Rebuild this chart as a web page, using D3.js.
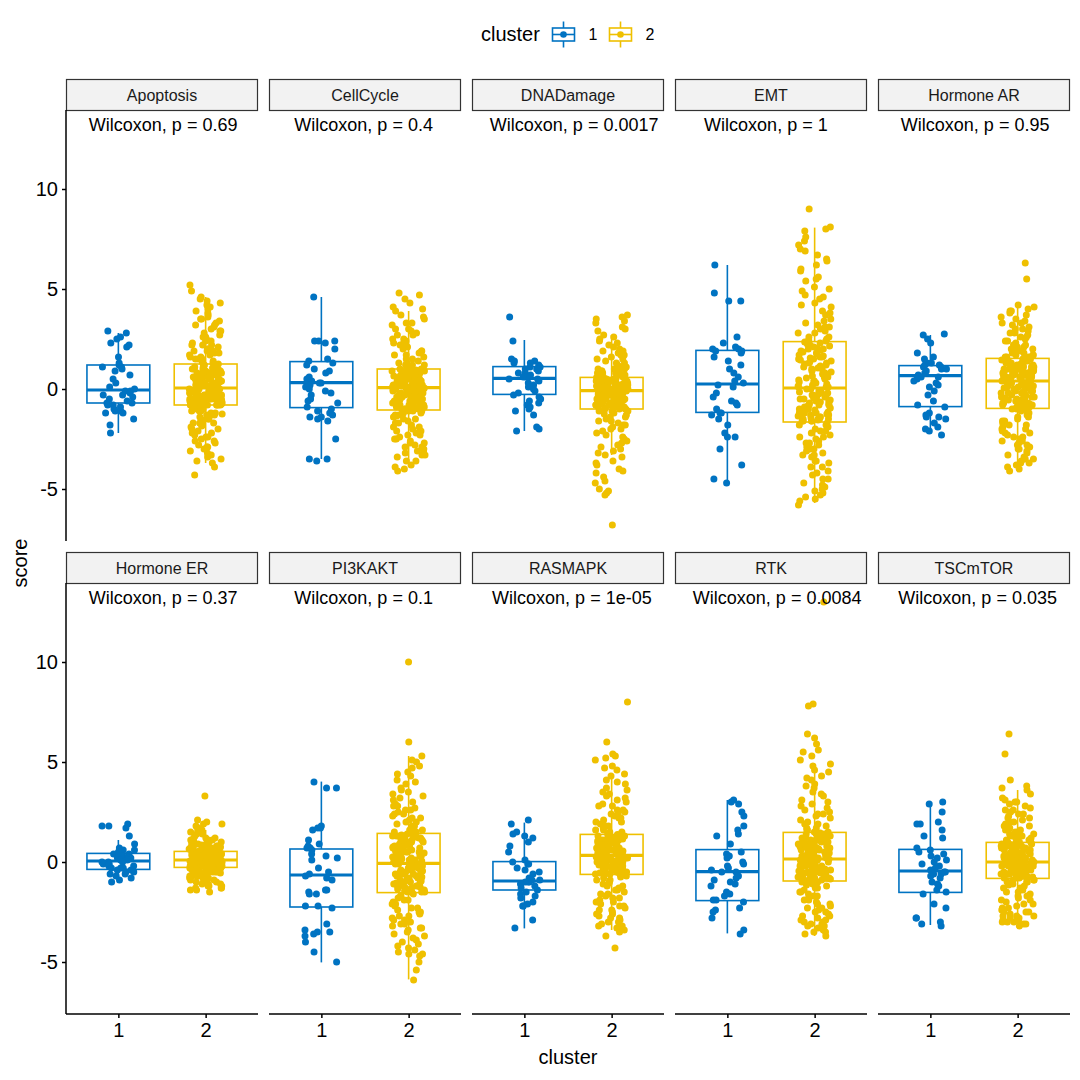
<!DOCTYPE html>
<html><head><meta charset="utf-8">
<script src="https://cdn.jsdelivr.net/npm/d3@7"></script>
<style>body{margin:0;background:#fff}svg{font-family:"Liberation Sans",Arial,Helvetica,sans-serif}</style>
</head><body><svg id="chart" width="1080" height="1080"></svg>
<script>
// ---------------- DATA ----------------
const facets = ["Apoptosis","CellCycle","DNADamage","EMT","Hormone AR","Hormone ER","PI3KAKT","RASMAPK","RTK","TSCmTOR"];
const pLabels = ["Wilcoxon, p = 0.69","Wilcoxon, p = 0.4","Wilcoxon, p = 0.0017","Wilcoxon, p = 1","Wilcoxon, p = 0.95",
                 "Wilcoxon, p = 0.37","Wilcoxon, p = 0.1","Wilcoxon, p = 1e-05","Wilcoxon, p = 0.0084","Wilcoxon, p = 0.035"];
const clusters = ["1","2"];
const yTicks = [-5,0,5,10];
// box statistics: [lower whisker, Q1, median, Q3, upper whisker]
const box1 = [[-2.2,-0.7,-0.05,1.2,2.8],[-3.5,-0.93,0.32,1.37,4.6],[-2.1,-0.27,0.53,1.12,2.45],[-4.67,-1.17,0.25,1.93,6.2],[-2.13,-0.88,0.67,1.17,2.7],
              [-1.0,-0.37,0.05,0.43,1.1],[-5.02,-2.25,-0.65,0.65,4.02],[-3.32,-1.4,-0.95,0.02,1.97],[-3.57,-1.93,-0.48,0.62,3.1],[-3.15,-1.52,-0.45,0.63,2.93]];
const box2 = [[-3.7,-0.8,0.05,1.25,4.6],[-3.9,-1.05,0.07,1.0,3.9],[-3.3,-1.0,-0.08,0.58,2.7],[-5.7,-1.65,0.05,2.37,8.07],[-4.05,-0.97,0.4,1.53,4.2],
              [-1.2,-0.27,0.1,0.53,1.6],[-5.87,-1.53,-0.07,1.43,5.3],[-3.4,-0.62,0.33,1.38,4.3],[-3.7,-0.95,0.15,1.48,4.9],[-3.15,-0.82,0.0,0.98,3.6]];

const apoptosis1 = [2.9,2.8,2.6,2.5,2.3,2.2,2.1,1.6,1.3,1.2,1.1,1.1,1.0,0.9,0.7,0.5,0.3,0.1,0.0,-0.1,-0.1,-0.2,-0.3,-0.3,-0.4,-0.5,-0.6,-0.7,-0.7,-0.8,-0.8,-0.9,-1.0,-1.1,-1.1,-1.2,-1.2,-1.5,-1.8,-2.2];
const apoptosis2 = [5.2,4.9,4.6,4.5,4.3,4.2,4.0,3.8,3.7,3.6,3.5,3.4,3.3,3.2,3.1,3.0,2.9,2.8,2.7,2.6,2.5,2.4,2.3,2.2,2.2,2.1,2.0,1.9,1.9,1.8,1.7,1.7,1.6,1.5,1.5,1.4,1.3,
  1.2,1.2,1.1,1.1,1.0,1.0,0.9,0.9,0.9,0.8,0.8,0.8,0.7,0.7,0.7,0.6,0.6,0.6,0.5,0.5,0.5,0.4,0.4,0.4,0.3,0.3,0.3,0.3,0.2,0.2,0.2,0.2,0.1,0.1,0.1,0.1,0.0,0.0,
  0.0,-0.1,-0.1,-0.1,-0.1,-0.2,-0.2,-0.2,-0.2,-0.3,-0.3,-0.3,-0.3,-0.4,-0.4,-0.4,-0.4,-0.5,-0.5,-0.5,-0.5,-0.5,-0.6,-0.6,-0.6,-0.6,-0.7,-0.7,-0.7,-0.7,-0.7,-0.8,-0.8,-0.8,-0.8,-0.8,-0.8,-0.8,
  -0.9,-0.9,-1.0,-1.0,-1.1,-1.1,-1.2,-1.2,-1.3,-1.3,-1.4,-1.4,-1.5,-1.5,-1.6,-1.7,-1.7,-1.8,-1.9,-2.0,-2.1,-2.2,-2.3,-2.4,-2.5,-2.6,-2.7,-2.8,-2.9,-3.0,-3.1,-3.3,-3.4,-3.6,-3.7,-3.9,-4.3,
  4.4,4.1,3.9,3.5,3.2,2.9,2.6,2.4,2.2,2.0,1.9,1.8,1.6,1.5,1.35,
  1.25,1.2,1.15,1.1,1.05,1.0,0.95,0.9,0.85,0.8,0.75,0.7,0.65,0.6,0.55,0.5,0.45,0.4,0.35,0.3,0.25,0.2,0.15,0.1,0.05,
  0.0,-0.05,-0.1,-0.15,-0.2,-0.25,-0.3,-0.35,-0.4,-0.45,-0.5,-0.55,-0.6,-0.65,-0.7,-0.75,-0.8,-0.1,-0.3,-0.5,-0.7,-0.2,-0.4,-0.6,-0.75,
  -0.9,-1.0,-1.1,-1.25,-1.4,-1.55,-1.7,-1.85,-2.0,-2.2,-2.4,-2.6,-2.9,-3.2,-3.5];
const cellcycle1 = [4.6,2.4,2.4,2.4,2.3,2.0,1.5,1.4,1.3,1.2,1.0,0.9,0.8,0.6,0.5,0.4,0.3,0.3,0.2,0.1,0.0,-0.1,-0.2,-0.3,-0.5,-0.6,-0.7,-0.9,-1.0,-1.1,-1.2,-1.3,-1.4,-1.4,-1.5,-1.6,-2.5,-3.5,-3.5,-3.6];
const cellcycle2 = [4.8,4.7,4.3,4.1,3.9,3.7,3.5,3.3,3.2,3.0,2.9,2.8,2.7,2.5,2.4,2.3,2.2,2.1,2.0,1.9,1.8,1.7,1.6,1.5,1.4,1.3,1.2,1.2,1.1,1.0,
  1.0,0.9,0.9,0.9,0.8,0.8,0.7,0.7,0.7,0.6,0.6,0.5,0.5,0.5,0.4,0.4,0.4,0.3,0.3,0.3,0.3,0.2,0.2,0.2,0.2,0.1,0.1,0.1,0.1,0.0,
  0.0,-0.1,-0.1,-0.1,-0.2,-0.2,-0.2,-0.3,-0.3,-0.3,-0.4,-0.4,-0.4,-0.5,-0.5,-0.5,-0.6,-0.6,-0.6,-0.7,-0.7,-0.7,-0.8,-0.8,-0.8,-0.9,-0.9,-1.0,-1.0,-1.0,
  -1.1,-1.1,-1.2,-1.3,-1.3,-1.4,-1.5,-1.6,-1.7,-1.8,-1.9,-2.0,-2.1,-2.2,-2.3,-2.4,-2.5,-2.6,-2.7,-2.8,-2.9,-3.0,-3.1,-3.2,-3.3,-3.4,-3.6,-3.8,-4.0,-4.1,
  4.5,4.0,3.6,3.3,3.0,2.7,2.5,2.3,2.1,1.9,1.7,1.5,1.3,1.2,1.1,
  1.0,0.95,0.9,0.85,0.8,0.75,0.7,0.65,0.6,0.55,0.5,0.45,0.4,0.35,0.3,0.25,0.2,0.15,0.1,0.08,0.9,0.6,0.4,0.2,0.1,
  0.05,0.0,-0.05,-0.1,-0.15,-0.2,-0.25,-0.3,-0.35,-0.4,-0.45,-0.5,-0.55,-0.6,-0.65,-0.7,-0.75,-0.8,-0.85,-0.9,-0.95,-1.0,-0.3,-0.6,-0.9,
  -1.1,-1.2,-1.35,-1.5,-1.7,-1.9,-2.1,-2.3,-2.5,-2.7,-2.9,-3.1,-3.3,-3.6,-3.9];
const dnadamage1 = [3.6,2.4,1.5,1.4,1.4,1.3,1.3,1.2,1.1,1.1,1.0,1.0,0.9,0.8,0.8,0.7,0.6,0.6,0.5,0.5,0.4,0.3,0.2,0.1,0.0,-0.1,-0.2,-0.3,-0.4,-0.5,-0.6,-0.7,-0.8,-0.9,-1.0,-1.1,-1.3,-1.9,-2.0,-2.1];
const dnadamage2 = [3.7,3.6,3.5,3.3,3.1,2.9,2.7,2.5,2.3,2.2,2.0,1.9,1.8,1.7,1.6,1.5,1.4,1.3,1.2,1.1,1.0,1.0,0.9,0.9,0.8,0.8,0.7,0.7,0.6,0.6,
  0.5,0.5,0.5,0.4,0.4,0.4,0.4,0.3,0.3,0.3,0.3,0.2,0.2,0.2,0.2,0.1,0.1,0.1,0.1,0.0,0.0,0.0,0.0,0.0,-0.1,-0.1,-0.1,-0.1,-0.1,-0.1,
  -0.1,-0.2,-0.2,-0.2,-0.2,-0.3,-0.3,-0.3,-0.3,-0.4,-0.4,-0.4,-0.5,-0.5,-0.5,-0.6,-0.6,-0.6,-0.7,-0.7,-0.7,-0.8,-0.8,-0.8,-0.9,-0.9,-0.9,-1.0,-1.0,-1.0,
  -1.1,-1.1,-1.2,-1.3,-1.4,-1.5,-1.6,-1.7,-1.8,-1.9,-2.0,-2.1,-2.2,-2.4,-2.5,-2.7,-2.8,-3.0,-3.2,-3.4,-3.6,-3.8,-4.0,-4.1,-4.4,-4.7,-5.0,-5.2,-5.3,-6.8,
  3.4,3.0,2.6,2.4,2.1,1.9,1.7,1.5,1.3,1.2,1.1,1.0,0.9,0.8,0.7,
  0.58,0.55,0.5,0.45,0.4,0.35,0.3,0.25,0.2,0.15,0.1,0.05,0.0,-0.05,0.5,0.4,0.3,0.2,0.1,0.0,0.45,0.25,0.05,0.35,0.15,
  -0.1,-0.15,-0.2,-0.25,-0.3,-0.35,-0.4,-0.45,-0.5,-0.55,-0.6,-0.65,-0.7,-0.75,-0.8,-0.85,-0.9,-0.95,-1.0,-0.2,-0.4,-0.6,-0.8,-0.3,-0.5,
  -1.1,-1.25,-1.4,-1.6,-1.8,-2.0,-2.3,-2.6,-2.9,-3.1,-3.3,-3.7,-4.2,-4.6,-5.1];
const emt1 = [6.2,4.8,4.4,4.4,2.6,2.3,2.1,2.0,2.0,1.9,1.9,1.8,1.6,1.4,1.2,1.0,0.8,0.6,0.4,0.3,0.2,0.1,-0.2,-0.4,-0.6,-0.7,-0.8,-1.0,-1.2,-1.2,-1.3,-1.5,-1.8,-2.2,-2.4,-2.4,-3.0,-3.8,-4.5,-4.7];
const emt2 = [9.0,8.1,7.9,7.6,7.2,7.0,6.7,6.4,6.2,5.9,5.6,5.4,5.1,4.9,4.7,4.5,4.3,4.1,3.9,3.7,3.5,3.3,3.2,3.1,3.0,2.9,2.8,2.6,2.5,2.4,
  2.3,2.2,2.1,2.0,2.0,1.9,1.8,1.7,1.6,1.6,1.5,1.4,1.3,1.3,1.2,1.1,1.0,1.0,0.9,0.8,0.7,0.6,0.6,0.5,0.4,0.4,0.3,0.2,0.1,0.1,
  0.0,-0.1,-0.2,-0.2,-0.3,-0.4,-0.4,-0.5,-0.6,-0.6,-0.7,-0.8,-0.8,-0.9,-1.0,-1.0,-1.1,-1.1,-1.2,-1.2,-1.3,-1.3,-1.4,-1.4,-1.5,-1.5,-1.5,-1.6,-1.6,-1.6,
  -1.7,-1.8,-1.9,-2.0,-2.1,-2.2,-2.3,-2.4,-2.5,-2.6,-2.7,-2.8,-2.9,-3.0,-3.1,-3.2,-3.3,-3.4,-3.6,-3.7,-3.9,-4.1,-4.3,-4.5,-4.7,-4.9,-5.1,-5.3,-5.5,-5.8,
  8.0,7.4,6.9,6.5,6.0,5.5,5.0,4.6,4.2,3.8,3.4,3.1,2.8,2.6,2.45,
  2.35,2.25,2.15,2.05,1.95,1.85,1.75,1.65,1.55,1.45,1.35,1.25,1.15,1.05,0.95,0.85,0.75,0.65,0.55,0.45,0.35,0.25,0.15,0.1,1.5,
  0.0,-0.1,-0.15,-0.25,-0.35,-0.45,-0.55,-0.65,-0.75,-0.85,-0.95,-1.05,-1.15,-1.25,-1.35,-1.45,-1.55,-1.6,-0.5,-1.0,-1.3,-0.3,-0.8,-1.2,-1.5,
  -1.8,-2.1,-2.4,-2.7,-3.0,-3.3,-3.6,-3.9,-4.2,-4.5,-4.8,-5.0,-5.2,-5.4,-5.6];
const hormoneAR1 = [2.75,2.7,2.5,2.3,1.8,1.6,1.5,1.3,1.3,1.2,1.2,1.1,1.1,1.0,1.0,0.9,0.8,0.7,0.6,0.6,0.5,0.4,0.3,0.2,0.1,-0.1,-0.3,-0.6,-0.8,-0.9,-1.2,-1.3,-1.4,-1.4,-1.5,-1.7,-1.9,-2.0,-2.1,-2.3];
const hormoneAR2 = [6.3,5.5,4.1,4.0,3.9,3.8,3.7,3.5,3.4,3.3,3.2,3.1,3.0,2.9,2.8,2.7,2.6,2.5,2.4,2.3,2.2,2.1,2.0,1.9,1.9,1.8,1.7,1.7,1.6,1.6,
  1.5,1.5,1.4,1.4,1.3,1.3,1.2,1.2,1.1,1.1,1.1,1.0,1.0,1.0,0.9,0.9,0.9,0.8,0.8,0.8,0.7,0.7,0.7,0.6,0.6,0.6,0.5,0.5,0.5,0.4,
  0.4,0.3,0.3,0.2,0.2,0.2,0.1,0.1,0.0,0.0,-0.1,-0.1,-0.2,-0.2,-0.3,-0.3,-0.4,-0.4,-0.5,-0.5,-0.6,-0.6,-0.7,-0.7,-0.8,-0.8,-0.9,-0.9,-0.9,-1.0,
  -1.0,-1.1,-1.2,-1.3,-1.4,-1.5,-1.6,-1.7,-1.8,-1.9,-2.0,-2.1,-2.2,-2.3,-2.4,-2.5,-2.6,-2.7,-2.8,-2.9,-3.0,-3.1,-3.2,-3.4,-3.5,-3.6,-3.7,-3.8,-4.0,-4.1,
  4.2,3.9,3.6,3.3,3.0,2.8,2.6,2.4,2.2,2.1,2.0,1.9,1.8,1.7,1.6,
  1.5,1.45,1.4,1.35,1.3,1.25,1.2,1.15,1.1,1.05,1.0,0.95,0.9,0.85,0.8,0.75,0.7,0.65,0.6,0.55,0.5,0.45,0.4,1.2,0.8,
  0.35,0.3,0.25,0.2,0.15,0.1,0.05,0.0,-0.05,-0.1,-0.15,-0.2,-0.3,-0.35,-0.4,-0.45,-0.5,-0.55,-0.6,-0.7,-0.75,-0.8,-0.85,-0.9,-0.95,
  -1.05,-1.2,-1.4,-1.6,-1.8,-2.0,-2.2,-2.4,-2.6,-2.8,-3.0,-3.3,-3.5,-3.7,-3.9];
const hormoneER1 = [1.9,1.8,1.8,1.7,1.3,0.9,0.7,0.6,0.6,0.5,0.5,0.4,0.4,0.3,0.3,0.2,0.2,0.2,0.1,0.1,0.0,0.0,0.0,-0.1,-0.1,-0.2,-0.2,-0.3,-0.3,-0.3,-0.4,-0.4,-0.5,-0.5,-0.6,-0.6,-0.7,-0.8,-0.9,-1.0];
const hormoneER2 = [3.3,2.1,2.0,1.9,1.8,1.7,1.6,1.5,1.4,1.3,1.2,1.2,1.1,1.1,1.0,1.0,0.9,0.9,0.9,0.8,0.8,0.8,0.7,0.7,0.7,0.6,0.6,0.6,0.6,0.5,
  0.5,0.5,0.5,0.5,0.4,0.4,0.4,0.4,0.4,0.4,0.3,0.3,0.3,0.3,0.3,0.3,0.2,0.2,0.2,0.2,0.2,0.2,0.2,0.1,0.1,0.1,0.1,0.1,0.1,0.1,
  0.1,0.0,0.0,0.0,0.0,0.0,0.0,0.0,-0.1,-0.1,-0.1,-0.1,-0.1,-0.1,-0.1,-0.2,-0.2,-0.2,-0.2,-0.2,-0.2,-0.2,-0.2,-0.3,-0.3,-0.3,-0.3,-0.3,-0.3,-0.3,
  -0.3,-0.4,-0.4,-0.4,-0.4,-0.5,-0.5,-0.5,-0.5,-0.6,-0.6,-0.6,-0.7,-0.7,-0.7,-0.8,-0.8,-0.8,-0.9,-0.9,-1.0,-1.0,-1.1,-1.1,-1.2,-1.2,-1.3,-1.3,-1.4,-1.5,
  1.9,1.6,1.4,1.2,1.1,1.0,0.95,0.9,0.85,0.8,0.75,0.7,0.65,0.6,0.55,
  0.53,0.5,0.48,0.45,0.42,0.4,0.38,0.35,0.32,0.3,0.28,0.25,0.22,0.2,0.18,0.15,0.12,0.1,0.45,0.35,0.25,0.15,0.4,0.3,0.2,
  0.08,0.05,0.02,0.0,-0.02,-0.05,-0.08,-0.1,-0.12,-0.15,-0.18,-0.2,-0.22,-0.25,0.05,0.0,-0.05,-0.1,-0.15,-0.2,-0.25,0.07,-0.03,-0.13,-0.23,
  -0.3,-0.35,-0.4,-0.45,-0.5,-0.55,-0.6,-0.7,-0.8,-0.9,-1.0,-1.1,-1.2,-1.3,-1.4];
const pi3kakt1 = [4.0,3.7,3.7,1.8,1.7,1.7,1.6,1.1,0.9,0.8,0.7,0.7,0.6,0.4,0.3,0.2,0.1,-0.3,-0.5,-0.6,-0.7,-0.8,-0.9,-1.4,-1.4,-1.5,-1.6,-1.6,-2.2,-2.2,-2.3,-3.1,-3.4,-3.5,-3.5,-3.6,-3.7,-4.0,-4.5,-5.0];
const pi3kakt2 = [10.0,6.0,5.3,5.0,4.7,4.5,4.3,4.1,3.9,3.7,3.5,3.3,3.1,2.9,2.8,2.7,2.6,2.5,2.4,2.3,2.2,2.1,2.0,1.9,1.8,1.7,1.6,1.6,1.5,1.5,
  1.4,1.3,1.3,1.2,1.2,1.1,1.1,1.0,1.0,0.9,0.9,0.8,0.8,0.7,0.7,0.6,0.6,0.5,0.5,0.4,0.4,0.3,0.3,0.2,0.2,0.1,0.1,0.0,0.0,-0.1,
  -0.1,-0.2,-0.2,-0.3,-0.3,-0.4,-0.4,-0.5,-0.5,-0.6,-0.6,-0.7,-0.7,-0.8,-0.8,-0.9,-0.9,-1.0,-1.0,-1.1,-1.1,-1.2,-1.2,-1.3,-1.3,-1.4,-1.4,-1.5,-1.5,-1.5,
  -1.6,-1.7,-1.8,-1.9,-2.0,-2.1,-2.2,-2.3,-2.4,-2.5,-2.6,-2.7,-2.8,-2.9,-3.0,-3.1,-3.2,-3.3,-3.4,-3.5,-3.7,-3.8,-4.0,-4.2,-4.3,-4.5,-4.6,-4.7,-5.4,-5.9,
  5.1,4.8,4.4,4.0,3.6,3.4,3.2,3.0,2.8,2.6,2.4,2.2,2.0,1.8,1.6,
  1.4,1.35,1.25,1.15,1.05,0.95,0.85,0.75,0.65,0.55,0.45,0.35,0.25,0.15,0.05,-0.05,1.3,1.0,0.7,0.4,0.1,1.2,0.8,0.5,0.2,
  -0.1,-0.15,-0.25,-0.35,-0.45,-0.55,-0.65,-0.75,-0.85,-0.95,-1.05,-1.15,-1.25,-1.35,-1.45,-1.5,-0.2,-0.5,-0.8,-1.1,-1.4,-0.3,-0.6,-0.9,-1.2,
  -1.7,-1.9,-2.1,-2.3,-2.5,-2.7,-2.9,-3.1,-3.3,-3.6,-3.9,-4.1,-4.4,-4.6,-5.0];
const rasmapk1 = [2.1,1.9,1.5,1.4,1.3,1.2,1.0,0.8,0.5,0.1,0.0,-0.1,-0.1,-0.3,-0.4,-0.5,-0.6,-0.8,-0.9,-0.9,-1.0,-1.0,-1.0,-1.1,-1.1,-1.2,-1.3,-1.4,-1.5,-1.6,-1.7,-1.8,-2.0,-2.1,-2.2,-2.2,-2.9,-3.3];
const rasmapk2 = [8.0,6.0,5.4,5.3,5.2,4.8,4.6,4.3,4.1,3.9,3.7,3.5,3.3,3.2,3.0,2.9,2.8,2.6,2.5,2.4,2.3,2.2,2.1,2.0,1.9,1.8,1.7,1.6,1.5,1.4,
  1.4,1.3,1.3,1.2,1.2,1.2,1.1,1.1,1.0,1.0,1.0,0.9,0.9,0.9,0.8,0.8,0.8,0.7,0.7,0.7,0.6,0.6,0.6,0.5,0.5,0.5,0.4,0.4,0.4,0.3,
  0.3,0.3,0.2,0.2,0.2,0.1,0.1,0.1,0.0,0.0,0.0,-0.1,-0.1,-0.1,-0.2,-0.2,-0.2,-0.3,-0.3,-0.3,-0.4,-0.4,-0.4,-0.5,-0.5,-0.5,-0.6,-0.6,-0.6,-0.6,
  -0.7,-0.8,-0.9,-1.0,-1.1,-1.2,-1.3,-1.4,-1.5,-1.6,-1.7,-1.8,-1.9,-2.0,-2.1,-2.2,-2.3,-2.4,-2.5,-2.6,-2.7,-2.8,-2.9,-3.0,-3.1,-3.2,-3.3,-3.4,-3.7,-4.3,
  5.1,4.7,4.4,4.0,3.6,3.4,3.1,2.8,2.6,2.4,2.2,2.0,1.8,1.6,1.5,
  1.38,1.35,1.3,1.25,1.2,1.15,1.1,1.05,1.0,0.95,0.9,0.85,0.8,0.75,0.7,0.65,0.6,0.55,0.5,0.45,0.4,0.35,1.0,0.7,0.5,
  0.3,0.25,0.2,0.15,0.1,0.05,0.0,-0.05,-0.1,-0.15,-0.2,-0.25,-0.3,-0.35,-0.4,-0.45,-0.5,-0.55,-0.6,0.2,0.0,-0.2,-0.4,0.1,-0.3,
  -0.75,-0.9,-1.05,-1.2,-1.4,-1.6,-1.8,-2.0,-2.2,-2.4,-2.6,-2.8,-3.0,-3.2,-3.5];
const rtk1 = [3.1,3.0,2.9,2.5,2.3,1.8,1.6,1.4,1.3,0.9,0.5,0.4,0.3,0.2,0.0,-0.1,-0.2,-0.3,-0.4,-0.5,-0.5,-0.7,-0.8,-0.9,-1.0,-1.1,-1.2,-1.5,-1.6,-1.7,-1.9,-1.9,-2.0,-2.3,-2.4,-2.5,-2.8,-3.4,-3.6];
const rtk2 = [13.0,7.9,7.8,6.4,5.9,5.6,5.5,5.1,4.8,4.5,4.3,4.1,3.9,3.7,3.5,3.3,3.1,2.9,2.8,2.6,2.5,2.4,2.3,2.2,2.0,1.9,1.8,1.7,1.6,1.5,
  1.4,1.4,1.3,1.3,1.2,1.2,1.1,1.1,1.0,1.0,0.9,0.9,0.9,0.8,0.8,0.7,0.7,0.7,0.6,0.6,0.5,0.5,0.5,0.4,0.4,0.3,0.3,0.2,0.2,0.2,
  0.1,0.1,0.0,0.0,0.0,-0.1,-0.1,-0.1,-0.2,-0.2,-0.2,-0.3,-0.3,-0.3,-0.4,-0.4,-0.4,-0.5,-0.5,-0.5,-0.6,-0.6,-0.6,-0.7,-0.7,-0.8,-0.8,-0.8,-0.9,-0.9,
  -1.0,-1.0,-1.1,-1.2,-1.3,-1.4,-1.5,-1.6,-1.7,-1.8,-1.9,-2.0,-2.1,-2.2,-2.3,-2.4,-2.5,-2.6,-2.7,-2.8,-2.9,-3.0,-3.0,-3.1,-3.2,-3.2,-3.3,-3.4,-3.5,-3.7,
  6.2,5.3,4.9,4.6,4.2,3.8,3.4,3.0,2.7,2.4,2.1,1.9,1.7,1.6,1.5,
  1.45,1.4,1.35,1.3,1.25,1.2,1.15,1.1,1.05,1.0,0.95,0.9,0.85,0.8,0.75,0.7,0.65,0.6,0.55,0.5,0.45,0.4,0.35,0.3,0.25,
  0.2,0.15,0.1,0.05,0.0,-0.05,-0.1,-0.15,-0.2,-0.25,-0.3,-0.35,-0.4,-0.45,-0.5,-0.55,-0.6,-0.65,-0.7,-0.75,-0.8,-0.85,-0.9,0.1,-0.4,
  -1.0,-1.15,-1.3,-1.5,-1.7,-1.9,-2.1,-2.3,-2.5,-2.7,-2.9,-3.1,-3.3,-3.5,-3.6];
const tscmtor1 = [3.0,2.9,2.5,2.0,1.9,1.9,1.6,1.3,1.2,0.7,0.6,0.5,0.4,0.3,0.2,0.1,0.0,-0.1,-0.2,-0.3,-0.4,-0.5,-0.5,-0.6,-0.6,-0.7,-0.8,-1.0,-1.1,-1.2,-1.4,-1.5,-1.6,-2.1,-2.3,-2.8,-2.8,-3.0,-3.1,-3.2];
const tscmtor2 = [6.4,5.4,4.1,3.7,3.6,3.2,3.1,3.0,2.9,2.7,2.6,2.5,2.4,2.3,2.2,2.1,2.0,1.9,1.8,1.7,1.6,1.5,1.4,1.4,1.3,1.2,1.2,1.1,1.1,1.0,
  1.0,0.9,0.9,0.9,0.8,0.8,0.8,0.7,0.7,0.7,0.6,0.6,0.6,0.5,0.5,0.5,0.4,0.4,0.4,0.3,0.3,0.3,0.2,0.2,0.2,0.1,0.1,0.1,0.0,0.0,
  0.0,0.0,-0.1,-0.1,-0.1,-0.2,-0.2,-0.2,-0.3,-0.3,-0.3,-0.3,-0.4,-0.4,-0.4,-0.4,-0.5,-0.5,-0.5,-0.5,-0.6,-0.6,-0.6,-0.6,-0.7,-0.7,-0.7,-0.7,-0.8,-0.8,
  -0.9,-0.9,-1.0,-1.0,-1.1,-1.2,-1.3,-1.4,-1.5,-1.6,-1.7,-1.8,-1.9,-2.0,-2.1,-2.2,-2.3,-2.4,-2.5,-2.5,-2.6,-2.7,-2.7,-2.8,-2.9,-2.9,-3.0,-3.0,-3.1,-3.2,
  3.8,3.4,3.0,2.8,2.6,2.4,2.2,2.0,1.8,1.7,1.6,1.5,1.3,1.2,1.1,
  0.98,0.95,0.9,0.85,0.8,0.75,0.7,0.65,0.6,0.55,0.5,0.45,0.4,0.35,0.3,0.25,0.2,0.15,0.1,0.05,0.8,0.6,0.4,0.2,0.0,
  -0.02,-0.05,-0.1,-0.15,-0.2,-0.25,-0.3,-0.35,-0.4,-0.45,-0.5,-0.55,-0.6,-0.65,-0.7,-0.75,-0.8,-0.1,-0.3,-0.5,-0.7,-0.2,-0.4,-0.6,-0.8,
  -0.9,-1.0,-1.15,-1.3,-1.5,-1.7,-1.9,-2.1,-2.3,-2.5,-2.7,-2.8,-2.9,-3.0,-3.1];

const series1 = [apoptosis1,cellcycle1,dnadamage1,emt1,hormoneAR1,hormoneER1,pi3kakt1,rasmapk1,rtk1,tscmtor1];
const series2 = [apoptosis2,cellcycle2,dnadamage2,emt2,hormoneAR2,hormoneER2,pi3kakt2,rasmapk2,rtk2,tscmtor2];

// ---------------- LAYOUT ----------------
const colors = ["#0073C2","#EFC000"];
const svg = d3.select("#chart");
const panelW = 192, colStep = 203, left0 = 66;
const stripTops = [79, 552], stripH = 31, panelH = 431;
const yDomain = [-7.6, 13.95];

function hash(i, k){ const s = Math.sin(i*12.9898 + k*78.233)*43758.5453; return s - Math.floor(s); }

facets.forEach((name, fi) => {
  const row = Math.floor(fi/5), col = fi % 5;
  const L = left0 + col*colStep;
  const sTop = stripTops[row];
  const pTop = sTop + stripH;
  const pBot = pTop + panelH;
  const x = d3.scalePoint().domain(clusters).range([L, L+panelW]).padding(0.6);
  const step = x.step();
  const y = d3.scaleLinear().domain(yDomain).range([pBot, pTop]);
  const g = svg.append("g");

  // strip
  g.append("rect").attr("x", L+0.5).attr("y", sTop+0.5).attr("width", panelW-1).attr("height", stripH)
    .attr("fill", "#F2F2F2").attr("stroke", "#333").attr("stroke-width", 1.2);
  g.append("text").attr("x", L+panelW/2).attr("y", sTop+stripH/2+6).attr("text-anchor","middle")
    .attr("font-size", 16).attr("fill", "#1A1A1A").text(name);

  // boxes
  const boxes = [box1[fi], box2[fi]];
  const bw = step*0.72;
  boxes.forEach((b, ci) => {
    const cx = x(clusters[ci]);
    const bg = g.append("g").attr("stroke", colors[ci]).attr("fill", "none");
    bg.append("line").attr("x1",cx).attr("x2",cx).attr("y1",y(b[4])).attr("y2",y(b[3])).attr("stroke-width",1.6);
    bg.append("line").attr("x1",cx).attr("x2",cx).attr("y1",y(b[1])).attr("y2",y(b[0])).attr("stroke-width",1.6);
    bg.append("rect").attr("x",cx-bw/2).attr("y",y(b[3])).attr("width",bw).attr("height",y(b[1])-y(b[3]))
      .attr("fill","#fff").attr("stroke-width",1.6);
    bg.append("line").attr("x1",cx-bw/2).attr("x2",cx+bw/2).attr("y1",y(b[2])).attr("y2",y(b[2])).attr("stroke-width",3.2);
  });

  // jittered points
  [series1[fi], series2[fi]].forEach((vals, ci) => {
    const cx = x(clusters[ci]);
    g.append("g").selectAll("circle").data(vals).join("circle")
      .attr("cx", (d,i) => cx + (hash(i, fi*2+ci+1)*2-1)*step*0.19)
      .attr("cy", d => y(d))
      .attr("r", 3.5)
      .attr("fill", colors[ci]);
  });

  // p-value label
  const t = g.append("text").attr("y", pTop+20.5).attr("font-size", 18).attr("fill","#000").text(pLabels[fi]);
  const w = t.node().getComputedTextLength();
  t.attr("x", L + 60 - 0.25*w);

  // y axis on first column
  if (col === 0) {
    const ax = g.append("g").attr("transform", `translate(${L},0)`)
      .call(d3.axisLeft(y).tickValues(yTicks).tickSize(4).tickPadding(4).tickFormat(d3.format("d")));
    ax.select(".domain").attr("stroke","#000").attr("stroke-width",1.5).attr("d", `M0,${pTop}V${pBot}`);
    ax.selectAll(".tick line").attr("stroke","#000").attr("stroke-width",1.5);
    ax.selectAll(".tick text").attr("font-size",20).attr("fill","#000").attr("font-family","Liberation Sans, Arial, sans-serif")
      .text(d => d < 0 ? "-" + Math.abs(d) : d);
  }
  // x axis on bottom row
  if (row === 1) {
    const ax = g.append("g").attr("transform", `translate(0,${pBot})`)
      .call(d3.axisBottom(x).tickSize(4).tickPadding(5));
    ax.select(".domain").attr("stroke","#000").attr("stroke-width",1.5).attr("d", `M${L},0H${L+panelW}`);
    ax.selectAll(".tick line").attr("stroke","#000").attr("stroke-width",1.5);
    ax.selectAll(".tick text").attr("font-size",20).attr("fill","#000").attr("font-family","Liberation Sans, Arial, sans-serif");
  }
});

// axis titles
svg.append("text").attr("x", 568).attr("y", 1064).attr("text-anchor","middle").attr("font-size",20).text("cluster");
svg.append("text").attr("transform","translate(27,563) rotate(-90)").attr("text-anchor","middle").attr("font-size",20).text("score");

// legend
const lg = svg.append("g");
lg.append("text").attr("x", 481).attr("y", 41).attr("font-size", 20).text("cluster");
const keyX = [563.5, 620.5];
clusters.forEach((c, i) => {
  const kx = keyX[i], ky = 34.5;
  const k = lg.append("g").attr("stroke", colors[i]).attr("fill","none").attr("stroke-width",1.6);
  k.append("line").attr("x1",kx).attr("x2",kx).attr("y1",ky-13).attr("y2",ky-6.5);
  k.append("line").attr("x1",kx).attr("x2",kx).attr("y1",ky+6.5).attr("y2",ky+13);
  k.append("rect").attr("x",kx-11).attr("y",ky-6.5).attr("width",22).attr("height",13).attr("fill","#fff");
  k.append("line").attr("x1",kx-11).attr("x2",kx+11).attr("y1",ky).attr("y2",ky);
  lg.append("circle").attr("cx",kx).attr("cy",ky).attr("r",3.3).attr("fill",colors[i]);
  lg.append("text").attr("x", kx+25).attr("y", 40).attr("font-size",16).text(c);
});
</script></body></html>
